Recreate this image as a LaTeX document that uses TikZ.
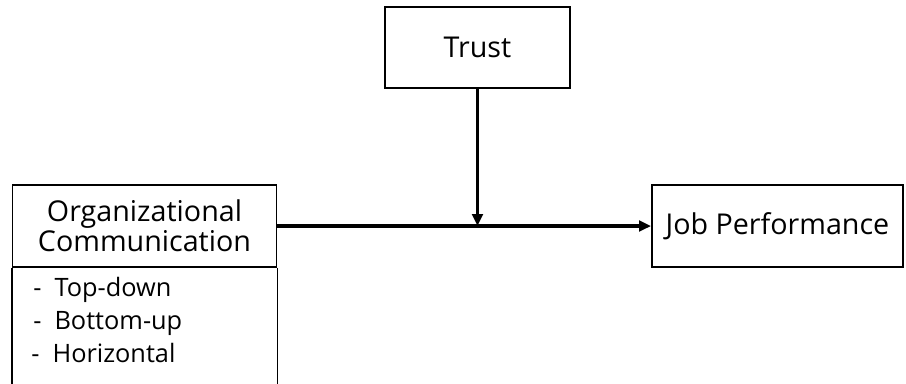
\documentclass[tikz,border=0pt]{standalone}
\usepackage{fontspec}
\setmainfont{Open Sans}
\usetikzlibrary{arrows.meta}
\usetikzlibrary{positioning}

\begin{document}
\begin{tikzpicture}[x=0.75pt, y=-0.75pt,
				boxnode/.style={rectangle, draw, line width=1.4pt, inner sep=0pt, align=center},
				itemnode/.style={anchor=base west, inner sep=0pt, font=\fontsize{19}{22}\selectfont},
				link/.style={line width=2.8pt, -{Triangle[length=9pt, width=8pt]}},
				]
				\useasboundingbox (0,0) rectangle (906,383);

				% Nodes
				\node[boxnode, minimum width=138.75pt, minimum height=60.75pt,
					font=\fontsize{21.5}{25}\selectfont] (trust) at (477.5,47.5) {Trust};
				\node[boxnode, minimum width=198pt, minimum height=61.5pt,
					font=\fontsize{21.5}{22.5}\selectfont] (orgcomm) at (144.5,226) {Organizational\\Communication};
				\node[boxnode, minimum width=188.25pt, minimum height=61.5pt,
					font=\fontsize{21.5}{25}\selectfont] (jobperf) at (777.5,226) {Job Performance};

				% Lower part of the communication box
				\draw[line width=1.4pt] (orgcomm.south west) -- ++(0,130) (orgcomm.south east) -- ++(0,130);
				\node[itemnode] (topdown) at (33,296) {-\ \ Top-down};
				\node[itemnode] (bottomup) at (33,329) {-\ \ Bottom-up};
				\node[itemnode] (horizontal) at (31,362) {-\ \ Horizontal};

				% Arrows
				\coordinate (meet) at (trust.south |- orgcomm.east);
				\draw[link] (orgcomm.east) -- (jobperf.west);
				\draw[link] (trust.south) -- (meet);
\end{tikzpicture}
\end{document}
